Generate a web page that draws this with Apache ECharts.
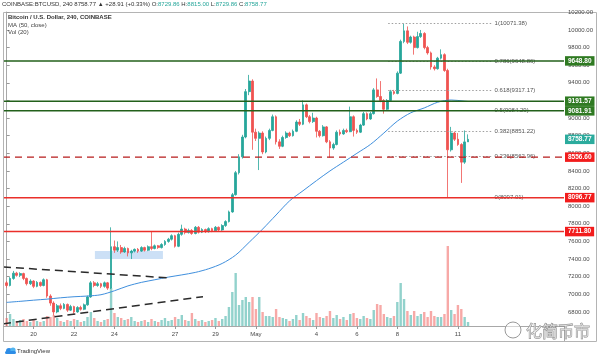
<!DOCTYPE html>
<html><head><meta charset="utf-8">
<script src="https://cdn.jsdelivr.net/npm/echarts@6/dist/echarts.min.js"></script>
<style>html,body{margin:0;padding:0;background:#fff}#c{width:600px;height:359px}</style>
</head><body><div id="c"></div>
<script>
// ---------- DATA ----------
const startTime = Date.UTC(2020, 3, 18, 16); // first 4h candle
const slotCount = 166;                       // visible time slots (incl. empty right margin)
const openP = [7130,7100,7180,7240,7215,7235,7180,7120,7150,7090,
7135,7100,7165,6980,6900,6800,6870,6840,6885,6820,
6860,6800,6850,6830,6880,6970,7130,7100,7120,7090,
7130,7070,7540,7500,7530,7480,7520,7470,7490,7510,
7490,7530,7500,7540,7520,7550,7530,7565,7600,7625,
7665,7545,7680,7740,7700,7725,7690,7760,7705,7735,
7710,7745,7720,7760,7730,7780,7825,7935,8130,8380,
8560,8785,9300,9420,8840,8770,8830,8615,8770,8860,
9015,8730,8680,8780,8830,8800,8850,8955,8930,9150,
9015,8960,9000,8850,8800,8900,8730,8660,8700,8840,
8820,8860,8845,9015,8860,8840,8920,9050,8990,9050,
9320,9245,9200,9100,9200,9300,9280,9510,9870,9990,
9860,9920,9800,9925,9960,9800,9740,9580,9560,9680,
9720,9540,8640,8830,8760,8700,8500,8729.86];
const closeP = [7100,7180,7240,7215,7235,7180,7120,7150,7090,7135,
7100,7165,6980,6900,6800,6870,6840,6885,6820,6860,
6800,6850,6830,6880,6970,7130,7100,7120,7090,7130,
7070,7540,7500,7530,7480,7520,7470,7490,7510,7490,
7530,7500,7540,7520,7550,7530,7565,7600,7625,7665,
7545,7680,7740,7700,7725,7690,7760,7705,7735,7710,
7745,7720,7760,7730,7780,7825,7935,8130,8380,8560,
8785,9300,9420,8840,8770,8830,8615,8770,8860,9015,
8730,8680,8780,8830,8800,8850,8955,8930,9150,9015,
8960,9000,8850,8800,8900,8730,8660,8700,8840,8820,
8860,8845,9015,8860,8840,8920,9050,8990,9050,9320,
9245,9200,9100,9200,9300,9280,9510,9870,9990,9860,
9920,9800,9925,9960,9800,9740,9580,9560,9680,9720,
9540,8640,8830,8760,8700,8500,8729.86,8758.77];
const lowP = [7075,7090,7165,7200,7195,7160,7100,7105,7070,7080,
7085,7090,6960,6870,6760,6785,6820,6830,6800,6810,
6780,6790,6815,6820,6870,6960,7080,7085,7070,7075,
7050,7060,7470,7480,7460,7470,7430,7400,7475,7470,
7480,7485,7490,7500,7510,7515,7520,7550,7585,7610,
7530,7535,7665,7680,7690,7675,7680,7690,7695,7695,
7700,7705,7710,7715,7720,7765,7815,7925,8120,8360,
8540,8770,9260,8640,8740,8410,8590,8600,8750,8850,
8700,8650,8670,8765,8785,8790,8840,8910,8920,9000,
8940,8945,8780,8780,8790,8715,8550,8640,8690,8800,
8810,8830,8840,8790,8820,8830,8910,8975,8980,9040,
9230,9180,9050,9090,9190,9265,9270,9500,9850,9840,
9845,9720,9790,9910,9780,9720,9550,9540,9550,9665,
9525,8097.01,8620,8740,8685,8264,8480,8729.86];
const highP = [7150,7195,7265,7255,7250,7245,7190,7170,7160,7150,
7145,7180,7175,7000,6920,6890,6895,6900,6895,6880,
6870,6865,6870,6895,6985,7150,7150,7140,7130,7145,
7140,7760,7610,7600,7560,7540,7530,7505,7520,7525,
7545,7540,7555,7710,7565,7560,7580,7615,7640,7680,
7675,7700,7790,7755,7745,7740,7775,7775,7750,7745,
7760,7755,7775,7770,7795,7840,7950,8150,8400,8590,
8810,9330,9490,9440,8880,8850,8850,8790,8880,9040,
9030,8760,8800,8850,8845,8870,8975,8990,9200,9165,
9035,9060,9015,8865,8920,8910,8750,8720,8860,8870,
8880,8880,9130,9030,8880,8935,9070,9065,9070,9340,
9450,9420,9215,9215,9320,9320,9530,9890,10071.38,10040,
9935,9935,9980,10000,9975,9820,9755,9600,9695,9780,
9735,9560,8900,8845,8830,8715,8860,8815];
const volume = [2400,3600,2100,1500,1800,2100,1500,1200,1800,1500,
1200,1500,3000,2700,3300,2400,1500,1200,1800,1500,
2100,1800,1200,1500,2700,4200,2400,1500,1200,1800,
2100,11400,3900,2700,2400,1800,2100,2700,1500,1200,
1500,1800,1200,2100,1500,1200,1800,2400,1500,1800,
2700,2100,3300,1800,1500,3900,2100,1500,1800,1200,
1500,1800,2400,1500,2100,3000,5700,10200,15900,6300,
7800,8700,7200,8700,5100,8700,4200,3000,3000,2700,
5100,2700,2400,2100,1500,2100,3300,1800,3900,3000,
2400,1800,3900,2700,2400,3000,4500,2400,3300,2100,
2700,1800,3600,3900,2400,2100,3000,2400,2100,4800,
6600,6300,3600,2700,2400,3000,7200,12900,8100,4500,
3300,4500,3000,3600,4200,2700,4500,3000,2700,2700,
3600,24000,4800,3600,6300,5100,2700,1200];
// MA(50, close) at candle indices
const maPoints = [[0,6908],[4,6920],[8,6933],[12,6945],[16,6960],[20,6972],[24,6980],[28,6995],
[32,7040],[36,7095],[40,7135],[44,7165],[48,7195],[52,7220],[56,7248],[60,7290],[64,7350],
[68,7445],[72,7590],[76,7740],[80,7900],[84,8060],[88,8175],[92,8290],[96,8400],[100,8500],
[104,8600],[108,8700],[112,8830],[116,8965],[120,9060],[124,9115],[128,9180],[132,9205],
[136,9192],[137,9188]];
const priceTicks = [6800,7000,7200,7400,7600,7800,8000,8200,8400,8600,8800,9000,9200,9400,9600,9800,10000,10200];
const shownDays = ['2020-04-20','2020-04-22','2020-04-24','2020-04-27','2020-04-29','2020-05-01','2020-05-04','2020-05-06','2020-05-08','2020-05-11'];
const tickLabels = ['20','22','24','27','29','May','4','6','8','11'];
const levelValues = [9648.80, 9191.57, 9081.91, 8556.60, 8096.77, 7711.80];
const levelKinds  = ['green','green','green','redDash','red','red'];
const fibRatios = ['1','0.786','0.618','0.5','0.382','0.236','0'];
const fibValues = [10071.38, 9648.86, 9317.17, 9084.29, 8851.22, 8562.96, 8097.01];
const fibSpan = [113.3, 144];
const trendUpper = [[-1.1, 7311], [48.5, 7185]];
const trendLower = [[-1.1, 6665], [58.3, 6973]];
const boxZone = [[26.2, 7401], [46.4, 7491]];

// ---------- BUILD ----------
const FONT = '"Liberation Sans", Arial, sans-serif';
const UP = '#26a69a', DOWN = '#ef5350';
const cats = [];
for (let i = 0; i < slotCount; i++) {
  cats.push(new Date(startTime + i * 4 * 3600 * 1000).toISOString().slice(0, 13));
}
const isShown = (v) => v.endsWith('T00') && shownDays.includes(v.slice(0, 10));
const candles = closeP.map((c, i) => [openP[i], c, lowP[i], highP[i]]);
const volData = volume.map((v, i) => ({
  value: v,
  itemStyle: { color: closeP[i] >= openP[i] ? 'rgba(38,166,154,0.5)' : 'rgba(239,83,80,0.5)' }
}));
const styles = {
  green:   { line: { color: '#23601b', width: 1.5, type: 'solid' }, box: '#2f7a22' },
  redDash: { line: { color: '#b71c1c', width: 1.3, type: [7, 5] }, box: '#f21c1c' },
  red:     { line: { color: '#ea2f2a', width: 1.5, type: 'solid' }, box: '#f21c1c' }
};
const boxLabel = (txt, bg) => ({
  show: true, distance: 1, formatter: txt, align: 'left', verticalAlign: 'middle',
  backgroundColor: bg, color: '#fff', fontSize: 6.5, fontWeight: 'bold',
  fontFamily: FONT, padding: [1.5, 3, 1, 3]
});
const n = closeP.length;
const last = closeP[n - 1], prev = closeP[n - 2];
const xL = -1.1, xR = slotCount - 0.5;
const levelSeries = levelValues.map((v, i) => ({
  type: 'line', xAxisIndex: 1, yAxisIndex: 0, clip: false, showSymbol: false, silent: true, z: 5,
  data: [[xL, v], [xR, v]],
  lineStyle: Object.assign({}, styles[levelKinds[i]].line),
  itemStyle: { color: styles[levelKinds[i]].line.color },
  endLabel: boxLabel(v.toFixed(2), styles[levelKinds[i]].box)
}));
levelSeries.push({
  type: 'line', xAxisIndex: 1, yAxisIndex: 0, clip: false, showSymbol: false, silent: true, z: 5,
  data: [[xR - 1, last], [xR, last]],
  lineStyle: { color: 'rgba(0,0,0,0)', width: 0 },
  endLabel: boxLabel(last.toFixed(2), '#2bab9d')
});

const fibLines = fibValues.map((v, i) => [
  { coord: [fibSpan[0], v], lineStyle: { color: '#9e9e9e', width: 1, type: [1.5, 2] },
    label: { show: true, position: 'end', distance: 3, formatter: fibRatios[i] + '(' + v.toFixed(2) + ')',
             color: '#555', fontSize: 6, fontFamily: FONT } },
  { coord: [fibSpan[1], v] }
]);

const chg = (last - prev), pct = chg / prev * 100;
const header = '{d|COINBASE:BTCUSD, 240 ' + last.toFixed(2) + ' ▲ +' + chg.toFixed(2) + ' (+' + pct.toFixed(2) + '%) O:}' +
  '{g|' + openP[n-1].toFixed(2) + '}{d| H:}{g|' + highP[n-1].toFixed(2) + '}{d| L:}{g|' + lowP[n-1].toFixed(2) +
  '}{d| C:}{g|' + last.toFixed(2) + '}';

const chart = echarts.init(document.getElementById('c'), null, { renderer: 'canvas' });
chart.setOption({
  animation: false,
  backgroundColor: '#fff',
  grid: { left: 5, right: 36, top: 12, bottom: 33, containLabel: false },
  xAxis: [
    { type: 'category', data: cats, boundaryGap: true,
      axisLine: { show: true, lineStyle: { color: '#a8a8a8', width: 1 } },
      axisTick: { show: true, alignWithLabel: true, length: 3, lineStyle: { color: '#999' },
                  interval: (idx, v) => isShown(v) },
      axisLabel: { interval: (idx, v) => isShown(v), formatter: (v) => tickLabels[shownDays.indexOf(v.slice(0, 10))],
                   fontSize: 6, color: '#4a4a4a', fontFamily: FONT, margin: 5 },
      splitLine: { show: false } },
    { type: 'value', show: false, min: -0.5, max: slotCount - 0.5, position: 'top' }
  ],
  yAxis: [
    { type: 'value', position: 'right', min: 6640, max: 10204, scale: true,
      axisLine: { show: true, lineStyle: { color: '#a8a8a8' } },
      axisTick: { show: true, length: 3, customValues: priceTicks, lineStyle: { color: '#999' } },
      axisLabel: { customValues: priceTicks, formatter: (v) => v.toFixed(2), fontSize: 6, color: '#4a4a4a',
                   fontFamily: FONT, margin: 4 },
      splitLine: { show: false } },
    { type: 'value', show: false, min: 0, max: 94200, splitLine: { show: false } }
  ],
  series: [
    { type: 'bar', name: 'Vol', xAxisIndex: 0, yAxisIndex: 1, data: volData, barWidth: 2.4, z: 1, silent: true },
    { type: 'candlestick', name: 'BTCUSD', xAxisIndex: 0, yAxisIndex: 0, data: candles, barWidth: 2.3, z: 3,
      itemStyle: { color: UP, color0: DOWN, borderColor: UP, borderColor0: DOWN, borderWidth: 0.8 } },
    { type: 'line', name: 'MA (50, close)', xAxisIndex: 1, yAxisIndex: 0, data: maPoints, smooth: 0.3,
      showSymbol: false, lineStyle: { color: '#3f8fdd', width: 1 }, z: 4,
      markLine: { silent: true, symbol: ['none', 'none'], data: fibLines, animation: false },
      markArea: { silent: true, itemStyle: { color: 'rgba(110,165,228,0.35)' },
                  data: [[{ coord: boxZone[0] }, { coord: boxZone[1] }]] } },
    { type: 'line', xAxisIndex: 1, yAxisIndex: 0, data: trendUpper, clip: false, showSymbol: false, z: 6,
      lineStyle: { color: '#2a2a2a', width: 1.5, type: [8, 5] } },
    { type: 'line', xAxisIndex: 1, yAxisIndex: 0, data: trendLower, clip: false, showSymbol: false, z: 6,
      lineStyle: { color: '#2a2a2a', width: 1.5, type: [8, 5] } }
  ].concat(levelSeries),
  graphic: [
    { type: 'rect', silent: true, z: 0, shape: { x: 3.5, y: 12.5, width: 593, height: 329 },
      style: { fill: 'none', stroke: '#b4b4b4', lineWidth: 1 } },
    { type: 'line', silent: true, shape: { x1: 3, y1: 326.5, x2: 5, y2: 326.5 }, style: { stroke: '#a8a8a8', lineWidth: 1 } },
    { type: 'line', silent: true, shape: { x1: 564.5, y1: 326, x2: 564.5, y2: 341 }, style: { stroke: '#a8a8a8', lineWidth: 1 } },
    { type: 'text', silent: true, z: 10, x: 2, y: 4,
      style: { text: header, verticalAlign: 'middle', font: '6px ' + FONT,
               rich: { d: { fill: '#333', fontSize: 6, fontFamily: FONT }, g: { fill: '#26a69a', fontSize: 6, fontFamily: FONT } } } },
    { type: 'text', silent: true, z: 10, x: 8, y: 17.5,
      style: { text: 'Bitcoin / U.S. Dollar, 240, COINBASE', verticalAlign: 'middle', fill: '#333', font: 'bold 6px ' + FONT } },
    { type: 'text', silent: true, z: 10, x: 8, y: 25,
      style: { text: 'MA (50, close)', verticalAlign: 'middle', fill: '#444', font: '6px ' + FONT } },
    { type: 'text', silent: true, z: 10, x: 8, y: 32.5,
      style: { text: 'Vol (20)', verticalAlign: 'middle', fill: '#444', font: '6px ' + FONT } },
    { type: 'circle', silent: true, z: 10, shape: { cx: 513, cy: 330, r: 8 },
      style: { fill: 'rgba(255,255,255,0.5)', stroke: '#9a9a9a', lineWidth: 1 } },
    { type: 'text', silent: true, z: 10, x: 526, y: 331,
      style: { text: '化简币市', verticalAlign: 'middle', font: '16px "Noto Sans CJK SC"',
               fill: 'rgba(255,255,255,0.55)', stroke: '#8a8a8a', lineWidth: 0.9 } },
    { type: 'circle', silent: true, z: 10, shape: { cx: 9, cy: 351, r: 3 }, style: { fill: '#2e8de6' } },
    { type: 'circle', silent: true, z: 10, shape: { cx: 13, cy: 350, r: 2.6 }, style: { fill: '#4fb3f0' } },
    { type: 'rect', silent: true, z: 10, shape: { x: 5, y: 351, width: 11, height: 3, r: 1.5 }, style: { fill: '#2e8de6' } },
    { type: 'text', silent: true, z: 10, x: 17, y: 351,
      style: { text: 'TradingView', verticalAlign: 'middle', fill: '#333', font: '6px ' + FONT } }
  ]
});
</script>
</body></html>
